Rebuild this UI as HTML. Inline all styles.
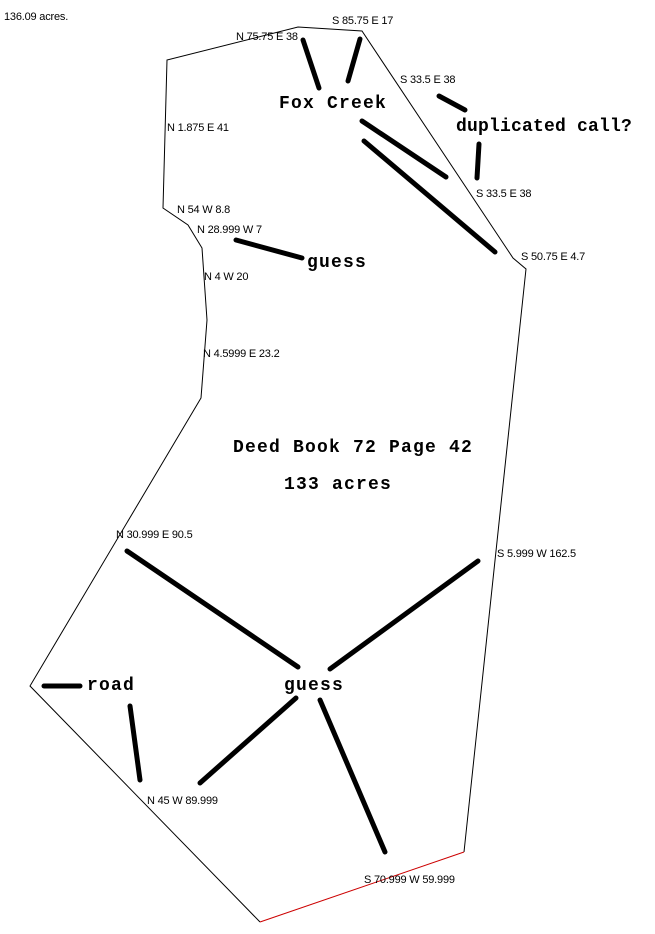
<!DOCTYPE html>
<html><head><meta charset="utf-8"><style>
html,body{margin:0;padding:0;background:#fff;}
svg{display:block;}
.s{font-family:"Liberation Sans",sans-serif;font-size:11px;fill:#000;letter-spacing:-0.2px;}
.b{font-family:"Liberation Mono",monospace;font-size:18px;font-weight:bold;fill:#000;letter-spacing:1.2px;}
</style></head><body>
<svg width="655" height="934" viewBox="0 0 655 934" xmlns="http://www.w3.org/2000/svg">
<polyline fill="none" stroke="#000" stroke-width="1" points="464,852 526,269 513,258 362,31 298,27 167,60 163,208 188,225 202,248 207,320 201,398 30,686 260,922"/>
<line x1="260" y1="922" x2="464" y2="852" stroke="#c00" stroke-width="1"/>
<g stroke="#000" stroke-width="5" stroke-linecap="round">
<line x1="303" y1="40" x2="319" y2="88"/>
<line x1="360" y1="39" x2="348" y2="81"/>
<line x1="362" y1="121" x2="446" y2="177"/>
<line x1="364" y1="141" x2="495" y2="252"/>
<line x1="439" y1="96" x2="465" y2="110"/>
<line x1="479" y1="144" x2="477" y2="178"/>
<line x1="236" y1="240" x2="302" y2="258"/>
<line x1="127" y1="551" x2="298" y2="667"/>
<line x1="478" y1="561" x2="330" y2="669"/>
<line x1="296" y1="698" x2="200" y2="783"/>
<line x1="320" y1="700" x2="385" y2="852"/>
<line x1="130" y1="706" x2="140" y2="780"/>
<line x1="44" y1="686" x2="80" y2="686"/>
</g>
<g class="s">
<text x="4" y="20">136.09 acres.</text>
<text x="236" y="40">N 75.75 E 38</text>
<text x="332" y="24">S 85.75 E 17</text>
<text x="400" y="83">S 33.5 E 38</text>
<text x="167" y="131">N 1.875 E 41</text>
<text x="476" y="197">S 33.5 E 38</text>
<text x="177" y="213">N 54 W 8.8</text>
<text x="197" y="233">N 28.999 W 7</text>
<text x="521" y="260">S 50.75 E 4.7</text>
<text x="204" y="280">N 4 W 20</text>
<text x="203" y="357">N 4.5999 E 23.2</text>
<text x="116" y="538">N 30.999 E 90.5</text>
<text x="497" y="557">S 5.999 W 162.5</text>
<text x="147" y="804">N 45 W 89.999</text>
<text x="364" y="883">S 70.999 W 59.999</text>
</g>
<g class="b">
<text x="279" y="108">Fox Creek</text>
<text x="456" y="131" textLength="177" lengthAdjust="spacing">duplicated call?</text>
<text x="307" y="267">guess</text>
<text x="233" y="452">Deed Book 72 Page 42</text>
<text x="284" y="489">133 acres</text>
<text x="87" y="690">road</text>
<text x="284" y="690">guess</text>
</g>
</svg>
</body></html>
